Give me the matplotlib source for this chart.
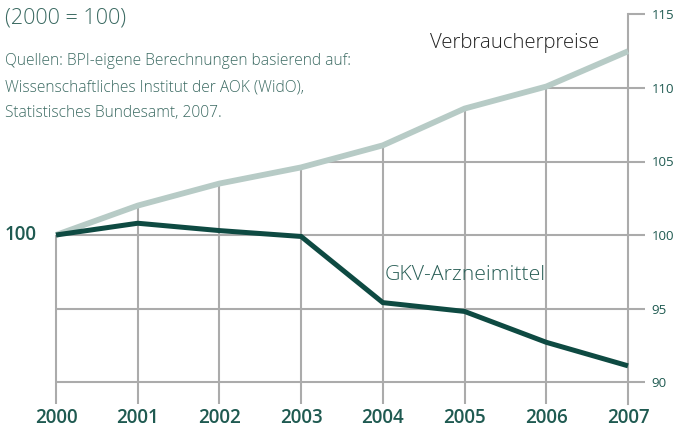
import matplotlib
matplotlib.use("Agg")
import matplotlib.pyplot as plt
from matplotlib.patches import Polygon
import numpy as np

years = [2000, 2001, 2002, 2003, 2004, 2005, 2006, 2007]
verbraucherpreise = [100.0, 102.0, 103.5, 104.6, 106.1, 108.6, 110.1, 112.5]
gkv_arzneimittel = [100.0, 100.8, 100.3, 99.9, 95.4, 94.8, 92.7, 91.1]
right_ticks = [90, 95, 100, 105, 110, 115]
title = "(2000 = 100)"
source_lines = ["Quellen: BPI-eigene Berechnungen basierend auf:",
                "Wissenschaftliches Institut der AOK (WidO),",
                "Statistisches Bundesamt, 2007."]

DARK = "#0e4a42"
LIGHT = "#b7cbc6"
GRID = "#ababab"
TEXT = "#1f5a51"
FONT = "Open Sans"

W, H = 680, 429
fig = plt.figure(figsize=(W / 100, H / 100), dpi=100)
ax = fig.add_axes([0, 0, 1, 1])

px_x = (628 - 56) / 7.0
px_y = (382 - 14.5) / 25.0
ax.set_xlim(2000 - 56 / px_x, 2007 + (W - 628) / px_x)
ax.set_ylim(90 - (H - 382) / px_y, 90 + 382 / px_y)
ax.set_facecolor("white")
for s in ["top", "left", "bottom"]:
    ax.spines[s].set_visible(False)

ylo = 90 - 22 / px_y

# clip polygon below the consumer price line
xs = [years[0] - 0.02] + years + [years[-1] + 0.02]
ys = [verbraucherpreise[0]] + verbraucherpreise + [verbraucherpreise[-1]]
poly = Polygon(list(zip(xs, ys)) + [(xs[-1], 80), (xs[0], 80)],
               closed=True, transform=ax.transData, facecolor="none", edgecolor="none")
ax.add_patch(poly)

hl = ax.hlines(right_ticks[:-1], years[0], years[-1], colors=GRID, linewidth=1.5)
hl.set_clip_path(poly)
vl = ax.vlines(years[:-1], ylo, 120, colors=GRID, linewidth=1.5)
vl.set_clip_path(poly)

# right axis
ax.spines["right"].set_position(("data", years[-1]))
ax.spines["right"].set_bounds(ylo, right_ticks[-1])
ax.spines["right"].set_color(GRID)
ax.spines["right"].set_linewidth(1.5)
ax.yaxis.tick_right()
ax.set_yticks(right_ticks)
ax.set_yticklabels([str(t) for t in right_ticks])
ax.tick_params(axis="y", direction="out", length=12.5, width=1.5, color=GRID,
               pad=4.5, labelcolor=TEXT, labelsize=9.5)
for lab in ax.get_yticklabels():
    lab.set_fontfamily(FONT)
ax.set_xticks([])

ax.plot(years, verbraucherpreise, color=LIGHT, linewidth=4.2, solid_capstyle="butt",
        solid_joinstyle="miter", zorder=3)
ax.plot(years, gkv_arzneimittel, color=DARK, linewidth=3.6, solid_capstyle="butt",
        solid_joinstyle="miter", zorder=4)

# year labels
for y in years:
    ax.text(y, 90 - 36 / px_y, str(y), ha="center", va="center", fontsize=13.5,
            fontweight="semibold", color=TEXT, family=FONT)
ax.text(2000 - 19 / px_x, 100, "100", ha="right", va="center", fontsize=13.5,
        fontweight="semibold", color=TEXT, family=FONT)

fig.text(5 / W, 1 - 18 / H, title, ha="left", va="center", fontsize=15.5,
         color="#3b6a62", family=FONT, fontweight="light")
for i, line in enumerate(source_lines):
    fig.text(5 / W, 1 - (61 + 26 * i) / H, line, ha="left", va="center",
             fontsize=11.2, color="#3b6a62", family=FONT, fontweight="light")

fig.text(430 / W, 1 - 43 / H, "Verbraucherpreise", ha="left", va="center",
         fontsize=14.7, color="#222222", family=FONT, fontweight="light")
fig.text(385 / W, 1 - 275 / H, "GKV-Arzneimittel", ha="left", va="center",
         fontsize=15.3, color="#2a5f57", family=FONT, fontweight="light")

fig.savefig("out.png", dpi=100)
